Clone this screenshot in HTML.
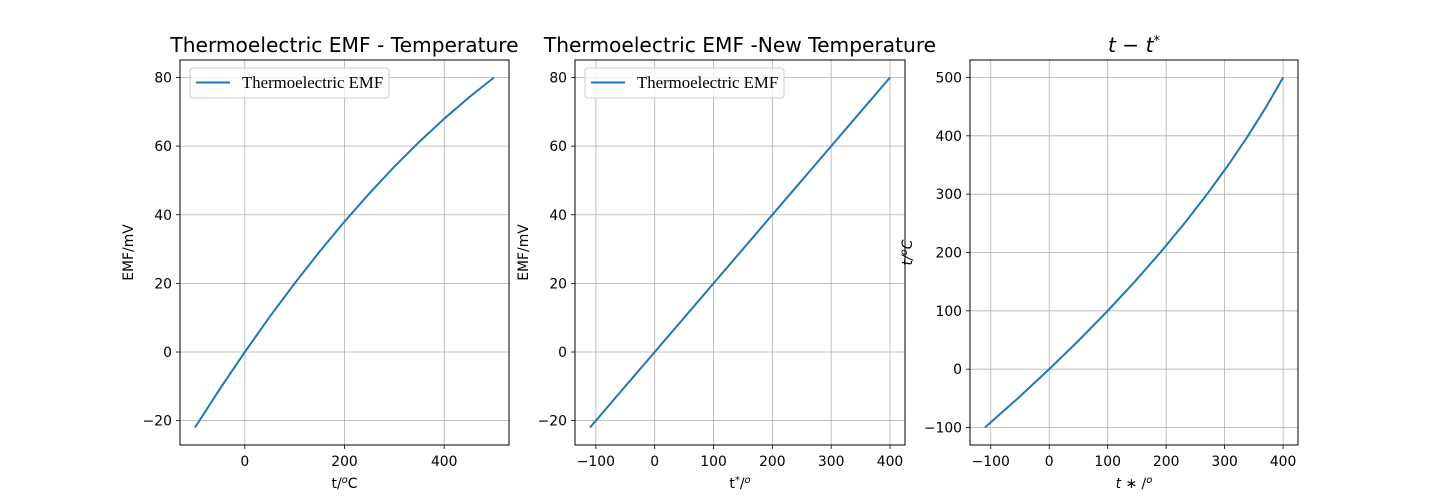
<!DOCTYPE html>
<html><head><meta charset="utf-8"><style>
html,body{margin:0;padding:0;background:#fff}
svg{display:block}
text{font-family:"DejaVu Sans","Liberation Sans",sans-serif;fill:#000}
</style></head><body>
<svg id="fig" width="1442" height="500" xmlns="http://www.w3.org/2000/svg"></svg>
<script>
// Data
const tempC = [-100,-50,0,50,100,150,200,250,300,350,400,450,500];
const emfMv = [-22,-10.75,0,10.25,20,29.25,38,46.25,54,61.25,68,74.25,80];
const tStar = [-110,-53.75,0,51.25,100,146.25,190,231.25,270,306.25,340,371.25,400];
const emfTicks = [-20,0,20,40,60,80];
const tTicks1 = [0,200,400];
const tStarTicks = [-100,0,100,200,300,400];
const tTicks3 = [-100,0,100,200,300,400,500];

const NS='http://www.w3.org/2000/svg';
const fig=document.getElementById('fig');
function mk(tag,attrs,parent){const e=document.createElementNS(NS,tag);for(const k in attrs)e.setAttribute(k,attrs[k]);(parent||fig).appendChild(e);return e;}
function ext(a){let lo=Math.min(...a),hi=Math.max(...a),m=(hi-lo)*0.05;return [lo-m,hi+m];}

function panel(o){
  const g=mk('g',{});
  
  
  const L=o.L,R=o.R,T=60,B=445;
  const [x0,x1]=ext(o.xs),[y0,y1]=ext(o.ys);
  const sx=v=>L+(v-x0)/(x1-x0)*(R-L);
  const sy=v=>B-(v-y0)/(y1-y0)*(B-T);
  o.xt.forEach(v=>{
    const l=mk('line',{x1:sx(v),x2:sx(v),y1:T,y2:B,stroke:'#b0b0b0','stroke-width':0.8},g);
    
    mk('line',{x1:sx(v),x2:sx(v),y1:B,y2:B+4,stroke:'#000','stroke-width':0.8},g);
    const t=mk('text',{x:sx(v),y:B+21,'text-anchor':'middle','font-size':'13.9px'},g);
    t.textContent=String(v).replace('-','\u2212');
    
  });
  o.yt.forEach(v=>{
    const l=mk('line',{x1:L,x2:R,y1:sy(v),y2:sy(v),stroke:'#b0b0b0','stroke-width':0.8},g);
    
    mk('line',{x1:L-4,x2:L,y1:sy(v),y2:sy(v),stroke:'#000','stroke-width':0.8},g);
    const t=mk('text',{x:L-8,y:sy(v)+5,'text-anchor':'end','font-size':'13.9px'},g);
    t.textContent=String(v).replace('-','\u2212');
    
  });
  const pts=o.xs.map((x,i)=>sx(x).toFixed(2)+','+sy(o.ys[i]).toFixed(2)).join(' ');
  const pl=mk('polyline',{points:pts,fill:'none',stroke:'#1f77b4','stroke-width':2,'stroke-linejoin':'round'},g);
  
  const fr=mk('rect',{x:L,y:T,width:R-L,height:B-T,fill:'none',stroke:'#000','stroke-width':1},g);
  
  const ti=mk('text',{x:(L+R)/2,y:52,'text-anchor':'middle','font-size':'20.2px'},g);
  ti.innerHTML=o.title;
  
  const xl=mk('text',{x:(L+R)/2,y:488,'text-anchor':'middle','font-size':'13.9px'},g);
  xl.innerHTML=o.xlabel;
  
  const yl=mk('text',{x:0,y:0,'text-anchor':'middle','font-size':'13.9px',transform:`translate(${o.ylx},${(T+B)/2}) rotate(-90)`},g);
  yl.innerHTML=o.ylabel;
  
  if(o.legend){
    const lg=mk('g',{},g);
    
    mk('rect',{x:L+10,y:68,width:199,height:30,rx:3,fill:'#fff','fill-opacity':0.8,stroke:'#ccc'},lg);
    mk('line',{x1:L+16,x2:L+50,y1:82.5,y2:82.5,stroke:'#1f77b4','stroke-width':2},lg);
    const lt=mk('text',{x:L+62,y:88,'font-size':'16.8px',style:'font-family:"Liberation Serif",serif'},lg);
    lt.textContent='Thermoelectric EMF';
    
  }
}
panel({name:'emf-vs-temperature-panel',L:180,R:509,xs:tempC,ys:emfMv,xt:tTicks1,yt:emfTicks,
  title:'Thermoelectric EMF - Temperature',xlabel:'t/<tspan font-size="10px" dy="-5" font-style="italic">o</tspan><tspan dy="5">C</tspan>',ylabel:'EMF/mV',ylx:133,legend:true});
panel({name:'emf-vs-new-temperature-panel',L:575,R:905,xs:tStar,ys:emfMv,xt:tStarTicks,yt:emfTicks,
  title:'Thermoelectric EMF -New Temperature',xlabel:'t<tspan font-size="10px" dy="-5">*</tspan><tspan dy="5">/</tspan><tspan font-size="10px" dy="-5" font-style="italic">o</tspan>',ylabel:'EMF/mV',ylx:528,legend:true});
panel({name:'t-vs-tstar-panel',L:970,R:1298,xs:tStar,ys:tempC,xt:tStarTicks,yt:tTicks3,
  title:'<tspan font-style="italic">t</tspan> \u2212 <tspan font-style="italic">t</tspan><tspan font-size="13px" dy="-7">*</tspan>',xlabel:'<tspan font-style="italic">t</tspan> \u2217 /<tspan font-size="10px" dy="-5" font-style="italic">o</tspan>',ylabel:'<tspan font-style="italic">t/<tspan font-size="10px" dy="-5">o</tspan><tspan dy="5">C</tspan></tspan>',ylx:912,legend:false});
</script>
</body></html>
